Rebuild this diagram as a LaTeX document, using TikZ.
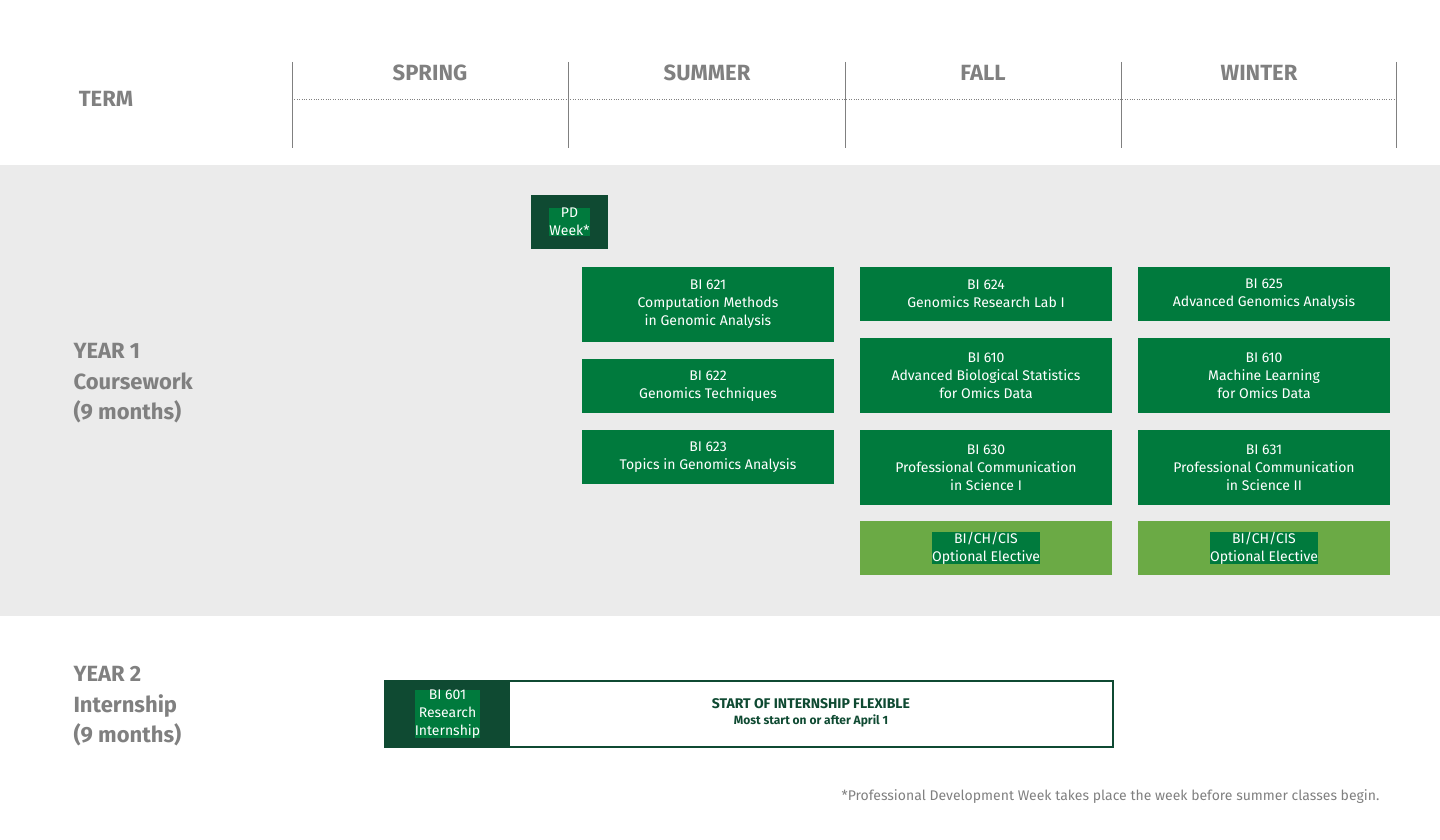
\documentclass[tikz,border=0pt]{standalone}
\usepackage{fontspec}
\setmainfont{Fira Sans}
\definecolor{dkg}{HTML}{0F4A32}
\definecolor{mdg}{HTML}{007A3D}
\definecolor{ltg}{HTML}{6BAA45}
\definecolor{bgg}{HTML}{EBEBEB}
\definecolor{txg}{HTML}{808080}
\begin{document}
\begin{tikzpicture}[x=1pt,y=-1pt,
  course/.style={fill=mdg,text=white,align=center,inner sep=0pt,font=\fontsize{14}{18}\selectfont},
  head/.style={text=txg,font=\fontsize{22}{26}\selectfont\bfseries},
  side/.style={text=txg,align=left,anchor=north west,font=\fontsize{22}{30.5}\selectfont\bfseries}]
\useasboundingbox (0,0) rectangle (1440,840);
\fill[bgg] (0,165) rectangle (1440,616);
\foreach \x in {292,568,845,1121,1396} \draw[txg,line width=1] (\x,62) -- (\x,148);
\draw[txg,dotted] (292,99) -- (1396,99);
\node[head] (term) at (106,99) {TERM};
\node[head] (sp) at (430,73) {SPRING};
\node[head] (su) at (707,73) {SUMMER};
\node[head] (fa) at (983,73) {FALL};
\node[head] (wi) at (1259,73) {WINTER};
\node[side] (y1) at (70,340) {YEAR 1\\Coursework\\(9 months)};
\node[side] (y2) at (70,663) {YEAR 2\\Internship\\(9 months)};
\newcommand{\crs}[6][mdg]{\fill[#1] (#2,#3) rectangle (#4,#5); \node[course] at ({(#2+#4)/2},{(#3+#5)/2}) {#6};}
\crs[dkg]{531}{195}{608}{249}{PD\\Week*}
\crs{582}{267}{834}{342}{BI 621\\Computation Methods\\in Genomic Analysis}
\crs{582}{359}{834}{413}{BI 622\\Genomics Techniques}
\crs{582}{430}{834}{484}{BI 623\\Topics in Genomics Analysis}
\crs{860}{267}{1112}{321}{BI 624\\Genomics Research Lab I}
\crs{860}{338}{1112}{413}{BI 610\\Advanced Biological Statistics\\for Omics Data}
\crs{860}{430}{1112}{505}{BI 630\\Professional Communication\\in Science I}
\crs[ltg]{860}{521}{1112}{575}{BI/CH/CIS\\Optional Elective}
\crs{1138}{267}{1390}{321}{BI 625\\Advanced Genomics Analysis}
\crs{1138}{338}{1390}{413}{BI 610\\Machine Learning\\for Omics Data}
\crs{1138}{430}{1390}{505}{BI 631\\Professional Communication\\in Science II}
\crs[ltg]{1138}{521}{1390}{575}{BI/CH/CIS\\Optional Elective}
\draw[dkg,line width=1.5] (385,681) rectangle (1113,747);
\crs[dkg]{385}{681}{510}{747}{BI 601\\Research\\Internship}
\node[text=dkg,align=center,font=\fontsize{14}{16}\selectfont\bfseries] (int) at (811,713) {START OF INTERNSHIP FLEXIBLE\\{\fontsize{12}{14}\selectfont Most start on or after April 1}};
\node[text=txg,anchor=east,font=\fontsize{14}{16}\selectfont] (fn) at (1383,797) {*Professional Development Week takes place the week before summer classes begin.};
\end{tikzpicture}
\end{document}
